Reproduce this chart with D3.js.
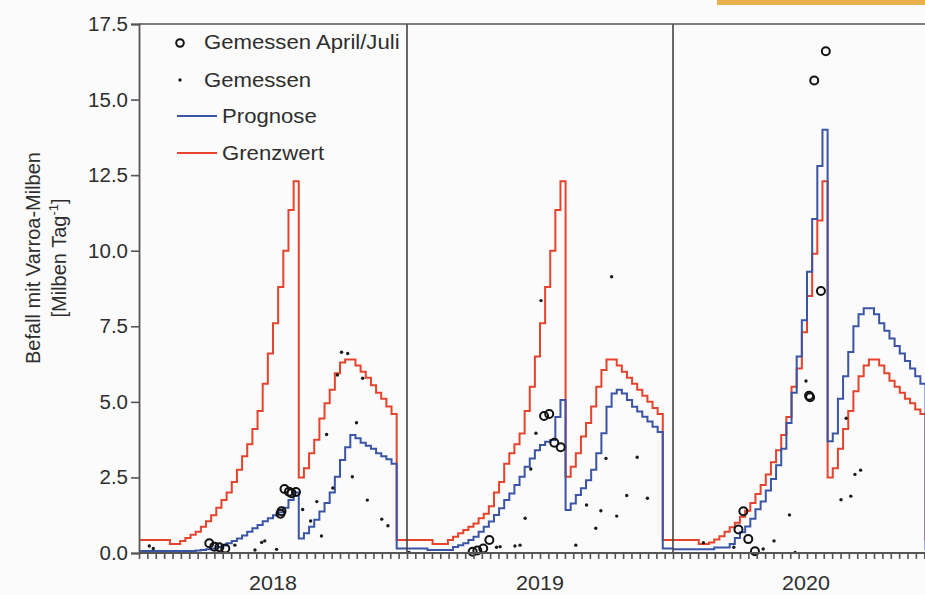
<!DOCTYPE html>
<html><head><meta charset="utf-8">
<script src="https://cdn.jsdelivr.net/npm/d3@7"></script>
<style>
body{margin:0;background:#fbfbfb;}
text{font-family:"Liberation Sans",Arial,sans-serif;fill:#2e2e2e;}
</style>
</head><body>
<svg id="c" width="925" height="595"></svg>
<script>
// ---------------- DATA ----------------
const years = ["2018", "2019", "2020"];
const yTicks = [0, 2.5, 5, 7.5, 10, 12.5, 15, 17.5];
const legendLabels = ["Gemessen April/Juli", "Gemessen", "Prognose", "Grenzwert"];
const yTitle = "Befall mit Varroa-Milben";
const yUnit = ["[Milben Tag", "-1", "]"];

// weekly step values (week 0..51) per year
const grenzwert2018 = [0.43,0.43,0.43,0.43,0.43,0.43,0.3,0.3,
  0.4,0.5,0.6,0.7,0.87,1.05,1.25,1.5,1.75,2.0,2.35,2.75,3.2,3.6,4.1,4.7,5.6,6.6,7.6,8.8,10.0,11.35,12.3,
  2.5,2.8,3.3,3.75,4.45,4.95,5.4,5.95,6.3,6.4,6.4,6.2,6.0,5.8,5.55,5.3,5.1,4.85,4.6,
  0.43,0.43];
const prognose2018 = [0.07,0.07,0.07,0.07,0.07,0.07,0.07,0.07,0.07,0.07,0.07,
  0.08,0.1,0.12,0.15,0.2,0.25,0.32,0.4,0.48,0.58,0.7,0.82,0.93,1.05,1.15,1.25,1.35,1.5,1.75,2.0,
  0.48,0.65,0.87,1.1,1.37,1.65,2.0,2.52,3.08,3.5,3.9,3.8,3.65,3.55,3.45,3.3,3.2,3.1,2.95,
  0.15,0.15];
const grenzwert2019 = [0.43,0.43,0.43,0.43,0.43,0.3,0.3,0.3,
  0.43,0.54,0.65,0.76,0.87,0.98,1.15,1.3,1.55,2.0,2.35,2.95,3.3,3.6,3.95,4.7,5.5,6.5,7.6,8.8,10.0,11.35,12.3,
  2.52,2.85,3.3,3.85,4.3,4.85,5.5,6.05,6.4,6.4,6.2,6.0,5.8,5.6,5.4,5.2,5.0,4.8,4.6,
  0.43,0.43];
const prognose2019 = [0.15,0.15,0.15,0.15,0.1,0.1,0.1,0.1,0.1,
  0.2,0.26,0.32,0.43,0.54,0.7,0.87,1.04,1.26,1.48,1.75,1.97,2.25,2.52,2.85,3.13,3.4,3.57,3.68,3.74,4.5,5.06,
  1.42,1.64,1.92,2.14,2.41,2.75,3.3,3.96,4.84,5.28,5.4,5.28,5.06,4.84,4.68,4.51,4.35,4.18,4.0,
  0.15,0.15];
const grenzwert2020 = [0.43,0.43,0.43,0.43,0.43,0.3,0.3,0.35,
  0.45,0.55,0.7,0.85,1.0,1.2,1.4,1.65,1.95,2.25,2.6,3.0,3.4,3.9,4.5,5.5,6.1,7.3,8.5,9.9,11.0,12.3,
  2.5,2.8,3.45,4.1,4.7,5.35,5.85,6.2,6.4,6.4,6.2,5.95,5.7,5.5,5.3,5.1,4.95,4.75,4.6,
  0.43,0.43,0.43];
const prognose2020 = [0.12,0.12,0.12,0.12,0.12,0.12,0.12,0.12,0.18,0.18,0.18,
  0.3,0.5,0.69,0.88,1.13,1.45,1.7,2.07,2.45,2.9,3.45,4.3,5.3,6.5,7.7,9.3,11.05,12.8,14.0,
  3.7,3.95,5.1,5.85,6.65,7.5,7.9,8.1,8.1,7.9,7.6,7.35,7.1,6.85,6.6,6.35,6.1,5.85,5.6,
  0.12,0.12,0.12];

// measured points: [week, value]
const aprilJuli2018 = [[13.64,0.32],[14.61,0.21],[15.58,0.19],[16.74,0.15],[27.45,1.3],[27.65,1.38],
  [28.23,2.12],[29.1,2.03],[29.59,1.98],[30.46,2.02]];
const aprilJuli2019 = [[12.84,0.04],[13.75,0.08],[14.9,0.15],[16.1,0.43],[26.8,4.53],[27.8,4.6],
  [28.8,3.65],[30.05,3.5]];
const aprilJuli2020 = [[12.7,0.78],[13.65,1.38],[14.6,0.46],[15.9,0.06],[26.4,5.2],[26.6,5.15],
  [27.4,15.63],[28.7,8.67],[29.65,16.6]];
const gemessen2018 = [[2.0,0.23],[2.77,0.15],[18.6,0.26],[22.5,0.1],[23.8,0.35],[24.4,0.4],[26.7,0.12],
  [31.75,1.44],[33.3,1.06],[34.5,1.7],[35.4,0.56],[36.4,3.92],[37.6,2.15],[38.5,5.89],[39.3,6.64],
  [40.5,6.6],[41.4,2.52],[42.2,4.31],[43.4,5.78],[44.3,1.75],[47.1,1.12],[48.3,0.9]];
const gemessen2019 = [[0.4,0.02],[17.5,0.19],[18.2,0.21],[21.1,0.23],[22.1,0.26],[23.1,1.15],[24.2,2.78],
  [25.2,3.96],[26.2,8.35],[33.0,0.26],[35.1,1.59],[36.9,0.82],[37.9,1.4],[38.9,3.13],[40.0,9.14],
  [41.0,1.22],[42.95,1.9],[45.0,3.17],[47.0,1.81]];
const gemessen2020 = [[5.9,0.34],[11.8,0.19],[17.5,0.13],[19.6,0.4],[22.6,1.26],[23.7,0.02],[25.8,5.69],
  [32.6,1.76],[33.6,4.46],[34.5,1.88],[35.3,2.6],[36.4,2.74]];

const seriesByYear = [
  {grenz: grenzwert2018, prog: prognose2018, april: aprilJuli2018, gem: gemessen2018},
  {grenz: grenzwert2019, prog: prognose2019, april: aprilJuli2019, gem: gemessen2019},
  {grenz: grenzwert2020, prog: prognose2020, april: aprilJuli2020, gem: gemessen2020}
];

// ---------------- LAYOUT ----------------
const plotTop = 24, plotBottom = 553, plotLeft = 139;
const panelEdges = [139, 407, 673, 941];
const weeks = 52, ticksPerPanel = 32;
const blue = "#3a55a6", red = "#e5432c", axisCol = "#555";

const svg = d3.select("#c");
svg.append("rect").attr("width", 925).attr("height", 595).attr("fill", "#fbfbfb");
// decorative banner top-right
svg.append("rect").attr("x", 717).attr("y", 0).attr("width", 208).attr("height", 5).attr("fill", "#e8b14e");

const y = d3.scaleLinear().domain([0, 17.5]).range([plotBottom, plotTop]);

const plot = svg.append("g");

years.forEach((yr, k) => {
  const x = d3.scaleLinear().domain([0, weeks]).range([panelEdges[k], panelEdges[k + 1]]);
  const s = seriesByYear[k];
  const line = d3.line().x(d => x(d[0])).y(d => y(d[1])).curve(d3.curveStepAfter);
  const toPts = arr => { const p = arr.map((v, i) => [i, v]); p.push([weeks, arr[arr.length - 1]]); return p; };

  plot.append("path").attr("d", line(toPts(s.grenz))).attr("fill", "none")
    .attr("stroke", red).attr("stroke-width", 2);
  plot.append("path").attr("d", line(toPts(s.prog))).attr("fill", "none")
    .attr("stroke", blue).attr("stroke-width", 2);

  plot.selectAll(null).data(s.gem).enter().append("circle")
    .attr("cx", d => x(d[0])).attr("cy", d => y(d[1])).attr("r", 1.7).attr("fill", "#1a1a1a");
  plot.selectAll(null).data(s.april).enter().append("circle")
    .attr("cx", d => x(d[0])).attr("cy", d => y(d[1])).attr("r", 4).attr("fill", "none")
    .attr("stroke", "#111").attr("stroke-width", 2);

  // x axis ticks
  const tv = d3.range(ticksPerPanel).map(j => j * weeks / ticksPerPanel);
  const ax = svg.append("g").attr("transform", `translate(0,${plotBottom})`)
    .call(d3.axisBottom(x).tickValues(tv).tickSize(6).tickFormat(""));
  ax.select(".domain").remove();
  ax.selectAll("line").attr("stroke", axisCol).attr("stroke-width", 1.6);

  // year label
  const cx = (panelEdges[k] + panelEdges[k + 1]) / 2 - (k === 2 ? 1 : 0);
  svg.append("text").attr("transform", `translate(${cx},590) scale(1.05,1)`)
    .attr("text-anchor", "middle").attr("font-size", 20.5).text(yr);

  // panel divider
  if (k > 0) {
    svg.append("line").attr("x1", panelEdges[k]).attr("x2", panelEdges[k]).attr("y1", plotTop).attr("y2", plotBottom)
      .attr("stroke", "#444").attr("stroke-width", 1.6);
  }
});

// frame top and bottom
svg.append("line").attr("x1", plotLeft).attr("x2", 925).attr("y1", plotTop).attr("y2", plotTop)
  .attr("stroke", "#555").attr("stroke-width", 1.6);
svg.append("line").attr("x1", plotLeft).attr("x2", 925).attr("y1", plotBottom).attr("y2", plotBottom)
  .attr("stroke", axisCol).attr("stroke-width", 1.8);

// y axis
const yAx = svg.append("g").attr("transform", `translate(${plotLeft},0)`)
  .call(d3.axisLeft(y).tickValues(yTicks).tickFormat(d3.format(".1f")).tickSize(8).tickPadding(3));
yAx.select(".domain").attr("stroke", axisCol).attr("stroke-width", 1.8);
yAx.selectAll("line").attr("stroke", axisCol).attr("stroke-width", 1.6);
yAx.selectAll("text").attr("font-size", 20.5).attr("fill", "#2e2e2e")
  .style("font-family", '"Liberation Sans",Arial,sans-serif');

// y title
svg.append("text").attr("transform", "translate(40,258) rotate(-90)")
  .attr("text-anchor", "middle").attr("font-size", 20).text(yTitle);
const yu = svg.append("text").attr("transform", "translate(66,258) rotate(-90)")
  .attr("text-anchor", "middle").attr("font-size", 20);
yu.append("tspan").text(yUnit[0]);
yu.append("tspan").attr("font-size", 13).attr("dy", -8).text(yUnit[1]);
yu.append("tspan").attr("dy", 8).text(yUnit[2]);

// legend
const lg = svg.append("g");
const rowsY = [49, 87, 123, 160];
lg.append("circle").attr("cx", 180).attr("cy", rowsY[0] - 6).attr("r", 3.8).attr("fill", "none")
  .attr("stroke", "#111").attr("stroke-width", 2);
lg.append("circle").attr("cx", 180).attr("cy", rowsY[1] - 7).attr("r", 1.7).attr("fill", "#1a1a1a");
lg.append("line").attr("x1", 177).attr("x2", 217).attr("y1", rowsY[2] - 7).attr("y2", rowsY[2] - 7)
  .attr("stroke", blue).attr("stroke-width", 2);
lg.append("line").attr("x1", 177).attr("x2", 217).attr("y1", rowsY[3] - 7).attr("y2", rowsY[3] - 7)
  .attr("stroke", red).attr("stroke-width", 2);
const textX = [204, 204, 222, 222];
legendLabels.forEach((t, i) => {
  lg.append("text").attr("transform", `translate(${textX[i]},${rowsY[i]}) scale(1.08,1)`)
    .attr("font-size", 20.5).text(t);
});
</script>
</body></html>
